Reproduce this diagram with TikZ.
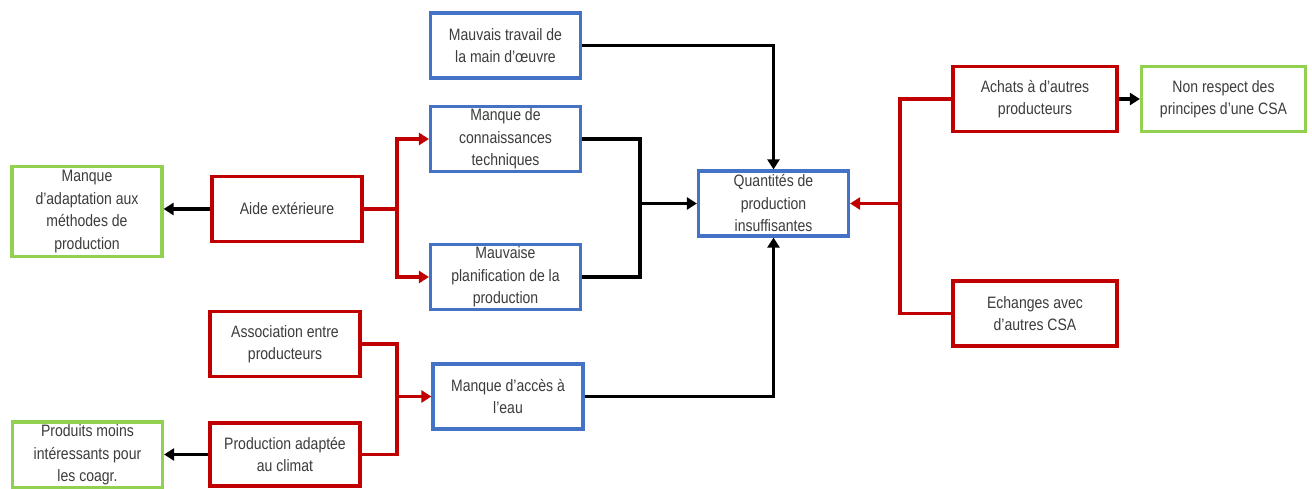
\documentclass[tikz,border=0pt]{standalone}
\usepackage{fontspec}
\setmainfont[FakeStretch=0.85]{Liberation Sans}
\usepackage{tikz}
\usetikzlibrary{arrows.meta}

\definecolor{boxblue}{RGB}{68,114,196}
\definecolor{boxred}{RGB}{192,0,0}
\definecolor{boxgreen}{RGB}{146,208,80}
\definecolor{txtgray}{RGB}{60,60,60}

\tikzset{
  cbox/.style={draw,line width=3.2pt,fill=white,align=center,inner sep=1pt,
    minimum width=150pt,minimum height=65pt,text=txtgray,
    font=\fontsize{16.5}{22.5}\selectfont},
  bluebox/.style={cbox,draw=boxblue},
  redbox/.style={cbox,draw=boxred},
  greenbox/.style={cbox,draw=boxgreen},
  wide/.style={minimum width=164pt},
  link/.style={line width=3.2pt},
  tip/.style={-{Triangle[length=10pt,width=12pt]}}
}

\begin{document}
\begin{tikzpicture}[x=1pt,y=-1pt]
  \useasboundingbox (0,0) rectangle (1312,489);
  % effets
  \node[greenbox,minimum height=90pt] (adapt) at (87,211.5) {Manque\\d'adaptation aux\\méthodes de\\production};
  \node[greenbox,minimum height=66pt] (moins) at (87.5,455) {Produits moins\\intéressants pour\\les coagr.};
  \node[greenbox,wide] (respect) at (1223.5,99) {Non respect des\\principes d'une CSA};
  % solutions
  \node[redbox] (aide) at (287,209) {Aide extérieure};
  \node[redbox] (assoc) at (285,344) {Association entre\\producteurs};
  \node[redbox,minimum height=63pt] (climat) at (285,454.5) {Production adaptée\\au climat};
  \node[redbox,wide] (achats) at (1035,99) {Achats à d'autres\\producteurs};
  \node[redbox,wide] (echanges) at (1035,313.5) {Echanges avec\\d'autres CSA};
  % causes
  \node[bluebox] (travail) at (505.5,45.5) {Mauvais travail de\\la main d'œuvre};
  \node[bluebox] (connais) at (505.5,139) {Manque de\\connaissances\\techniques};
  \node[bluebox] (planif) at (505.5,277) {Mauvaise\\planification de la\\production};
  \node[bluebox] (acces) at (508,396.5) {Manque d'accès à\\l'eau};
  \node[bluebox] (quant) at (773.5,203.5) {Quantités de\\production\\insuffisantes};

  \coordinate (aidejoin) at (397,209);
  \coordinate (climjoin) at (397,396.5);
  \coordinate (techjoin) at (640,203.5);
  \coordinate (achjoin) at (900,203.5);

  % liens rouges
  \draw[link,boxred] (aide.east) -- (aidejoin);
  \draw[link,boxred,tip] (aidejoin) |- (connais.west);
  \draw[link,boxred,tip] (aidejoin) |- (planif.west);
  \draw[link,boxred] (assoc.east) -| (climjoin);
  \draw[link,boxred] (climat.east) -| (climjoin);
  \draw[link,boxred,tip] (climjoin) -- (acces.west);
  \draw[link,boxred] (achats.west) -| (achjoin);
  \draw[link,boxred] (echanges.west) -| (achjoin);
  \draw[link,boxred,tip] (achjoin) -- (quant.east);

  % liens noirs
  \draw[link,tip] (aide.west) -- (aide.west -| adapt.east);
  \draw[link,tip] (climat.west) -- (climat.west -| moins.east);
  \draw[link,tip] (achats.east) -- (respect.west);
  \draw[link] (connais.east) -| (techjoin);
  \draw[link] (planif.east) -| (techjoin);
  \draw[link,tip] (techjoin) -- (quant.west);
  \draw[link,tip] (travail.east) -| (quant.north);
  \draw[link,tip] (acces.east) -| (quant.south);
\end{tikzpicture}
\end{document}
